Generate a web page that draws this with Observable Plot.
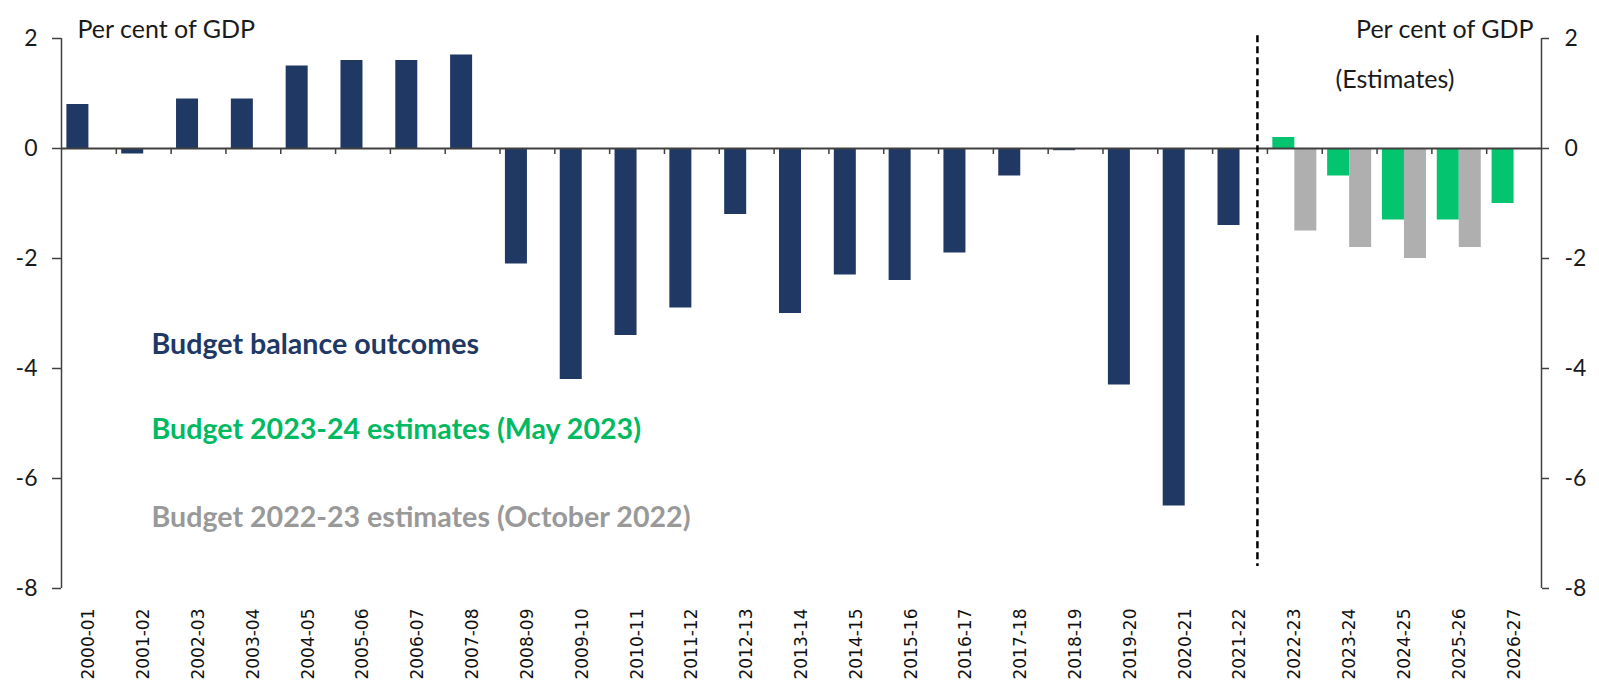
<!DOCTYPE html>
<html><head><meta charset="utf-8">
<script src="https://cdn.jsdelivr.net/npm/d3@7"></script>
<script src="https://cdn.jsdelivr.net/npm/@observablehq/plot@0.6"></script>
<style>body{margin:0;background:#fff} #chart svg{display:block}</style>
</head><body><div id="chart"></div>
<script>
// ---- data ----
const outcomeYears = ["2000-01","2001-02","2002-03","2003-04","2004-05","2005-06","2006-07","2007-08","2008-09","2009-10","2010-11","2011-12","2012-13","2013-14","2014-15","2015-16","2016-17","2017-18","2018-19","2019-20","2020-21","2021-22"];
const outcomes = [0.8,-0.1,0.9,0.9,1.5,1.6,1.6,1.7,-2.1,-4.2,-3.4,-2.9,-1.2,-3.0,-2.3,-2.4,-1.9,-0.5,-0.04,-4.3,-6.5,-1.4];
const estimateYears = ["2022-23","2023-24","2024-25","2025-26","2026-27"];
const may2023 = [0.2,-0.5,-1.3,-1.3,-1.0];
const oct2022 = [-1.5,-1.8,-2.0,-1.8,null];
const yTicks = [2,0,-2,-4,-6,-8];
const legendLabels = ["Budget balance outcomes","Budget 2023-24 estimates (May 2023)","Budget 2022-23 estimates (October 2022)"];
const unitLabel = "Per cent of GDP";
const estimatesLabel = "(Estimates)";
const dividerYear = "2022-23";

// ---- layout ----
const W = 1599, H = 688, mL = 61, mR = 58, mT = 38, mB = 100;
const years = outcomeYears.concat(estimateYears);
const bw = (W - mL - mR) / years.length;
const gap = 5.4, barW = (bw - 2 * gap) / 2;
const navy = "#203864", green = "#05C46F", grey = "#AFAFAF";

const outcomeData = outcomeYears.map((x, i) => ({x, v: outcomes[i]}));
const mayData = estimateYears.map((x, i) => ({x, v: may2023[i]}));
const octData = estimateYears.map((x, i) => ({x, v: oct2022[i]})).filter(d => d.v != null);

const font = "Lato, 'Open Sans', sans-serif";
const axisColor = "#404040";

const chart = Plot.plot({
  width: W, height: H,
  marginLeft: mL, marginRight: mR, marginTop: mT, marginBottom: mB,
  style: {fontFamily: font, background: "#fff", color: "#1a1a1a"},
  x: {domain: years, padding: 0, round: false, label: null},
  y: {domain: [-8, 2], label: null},
  marks: [
    Plot.barY(outcomeData, {x: "x", y: "v", fill: navy, insetLeft: gap, insetRight: bw - gap - barW}),
    Plot.barY(mayData, {x: "x", y: "v", fill: green, insetLeft: gap, insetRight: bw - gap - barW}),
    Plot.barY(octData, {x: "x", y: "v", fill: grey, insetLeft: gap + barW, insetRight: gap}),
    Plot.ruleY([0], {stroke: axisColor, strokeWidth: 2}),
    Plot.ruleX(years.slice(1), {x: d => d, y1: 0, y2: 0, insetBottom: -6, dx: -bw / 2, stroke: axisColor, strokeWidth: 1.5}),
    Plot.ruleX([years[0]], {x: d => d, y1: -8, y2: 2, dx: -bw / 2, stroke: axisColor, strokeWidth: 1.5}),
    Plot.ruleX([years[years.length - 1]], {x: d => d, y1: -8, y2: 2, dx: bw / 2, stroke: axisColor, strokeWidth: 1.5}),
    Plot.ruleX([dividerYear], {x: d => d, y1: 2.05, y2: -7.6, dx: -bw / 2 - 10, stroke: "#000", strokeWidth: 2.5, strokeDasharray: "7,4"}),
    Plot.axisY({anchor: "left", ticks: yTicks, tickFormat: d => String(d), tickSize: 9, tickPadding: 15, fontSize: 23, stroke: axisColor, strokeWidth: 1.5}),
    Plot.axisY({anchor: "right", ticks: yTicks, tickFormat: d => String(d), tickSize: 7, tickPadding: 16, fontSize: 23, stroke: axisColor, strokeWidth: 1.5}),
    Plot.axisX({anchor: "bottom", tickSize: 0, tickPadding: 20, tickRotate: -90, fontSize: 17, fontFamily: "'DejaVu Sans', sans-serif", fill: "#111", label: null}),
    Plot.text([unitLabel], {frameAnchor: "top-left", dx: 16, dy: -18, textAnchor: "start", fontSize: 25}),
    Plot.text([unitLabel], {frameAnchor: "top-right", dx: -8, dy: -18, textAnchor: "end", fontSize: 25}),
    Plot.text([estimatesLabel], {frameAnchor: "top-right", dx: -206, dy: 32, textAnchor: "start", fontSize: 25}),
    Plot.text([legendLabels[0]], {frameAnchor: "top-left", dx: 90, dy: 295, textAnchor: "start", fontSize: 28.6, fontWeight: "bold", fill: navy}),
    Plot.text([legendLabels[1]], {frameAnchor: "top-left", dx: 90, dy: 380, textAnchor: "start", fontSize: 28.6, fontWeight: "bold", fill: "#00BA62"}),
    Plot.text([legendLabels[2]], {frameAnchor: "top-left", dx: 90, dy: 468, textAnchor: "start", fontSize: 28.6, fontWeight: "bold", fill: "#999999"})
  ]
});
document.getElementById("chart").appendChild(chart);
</script>
</body></html>
